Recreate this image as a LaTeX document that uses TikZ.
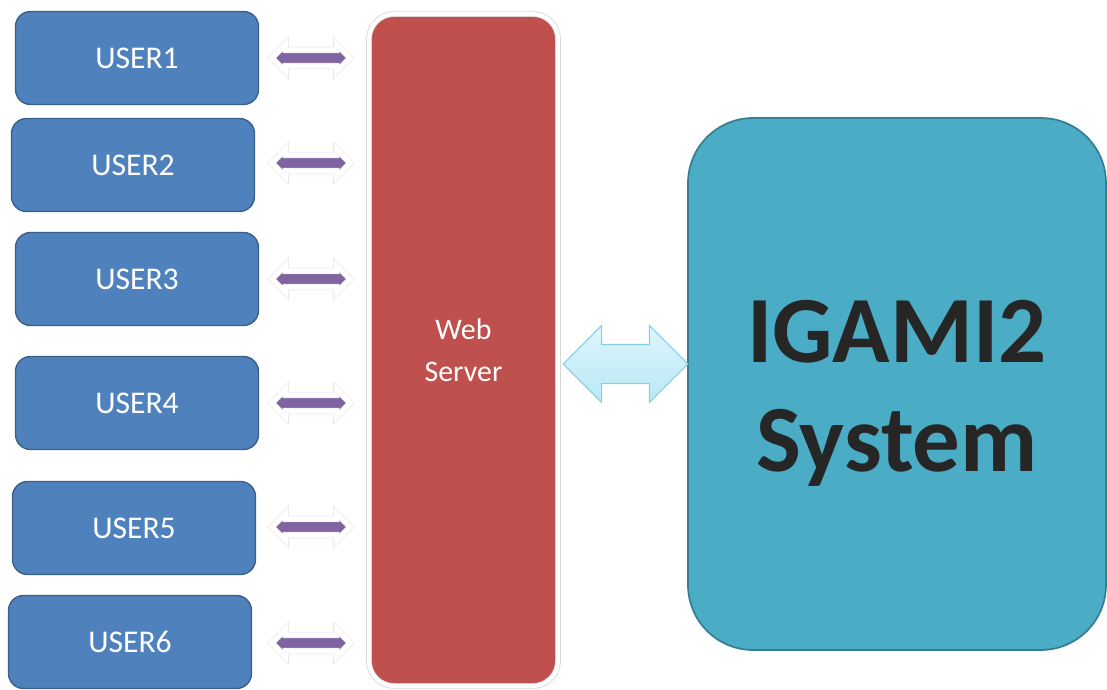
\documentclass[tikz,border=0pt]{standalone}
\usepackage{fontspec}
\setmainfont{Carlito}
\usetikzlibrary{shapes.arrows}
\definecolor{userblue}{HTML}{4F81BD}
\definecolor{userline}{HTML}{3A5F8B}
\definecolor{serverred}{HTML}{C0504D}
\definecolor{systeal}{HTML}{4BACC6}
\definecolor{sysline}{HTML}{367F93}
\definecolor{linkpurple}{HTML}{8064A2}
\definecolor{linkblue}{HTML}{B8E8F6}
\definecolor{linkline}{HTML}{86CDE0}
\tikzstyle{userbox}=[rectangle,rounded corners=0.3cm,fill=userblue,draw=userline,line width=0.8pt,minimum width=4.86cm,minimum height=1.86cm,text=white,font=\fontsize{18}{20}\selectfont]
\tikzstyle{serverbox}=[rectangle,rounded corners=0.5cm,fill=serverred,draw=black!18,line width=0.4pt,double=white,double distance=2.4pt,minimum width=3.78cm,minimum height=13.44cm,text=white,align=center,font=\fontsize{17}{24}\selectfont]
\tikzstyle{systembox}=[rectangle,rounded corners=1.3cm,fill=systeal,draw=sysline,line width=1pt,minimum width=8.36cm,minimum height=10.64cm]
\tikzstyle{systext}=[text=black!85,align=center,font=\fontsize{54}{62}\selectfont\bfseries]
\tikzstyle{userlink}=[double arrow,fill=linkpurple,draw=black!12,line width=0.3pt,double=white,double distance=3pt,minimum height=1.57cm,inner xsep=0pt,inner ysep=0.155cm,double arrow head extend=0.12cm]
\tikzstyle{syslink}=[double arrow,top color=linkblue!45!white,bottom color=linkblue,draw=linkline,line width=0.6pt,minimum height=2.5cm,inner xsep=0pt,inner ysep=0.38cm,double arrow head extend=0.38cm]

\begin{document}
\begin{tikzpicture}[x=0.02cm,y=-0.02cm]
    \useasboundingbox (0,0) rectangle (1107,690);
    % users on the left
    \foreach \i/\x/\y in {1/137/58,2/133/165,3/137/279,4/137/403,5/134/528,6/130/642}
        \node[userbox] (u\i) at (\x,\y) {USER\i};
    \node[serverbox] (web) at (463.5,350) {Web\\Server};
    \node[systembox] (igami) at (897,384) {};
    \node[systext] (igamitext) at ([yshift=-0.18cm]igami.center) {IGAMI2\\System};

    % links
    \foreach \i/\y in {1/58,2/163,3/279,4/403,5/527,6/643}
        \node[userlink] (a\i) at (311,\y) {};
    \node[syslink] (link) at (625.5,364) {};
\end{tikzpicture}
\end{document}
